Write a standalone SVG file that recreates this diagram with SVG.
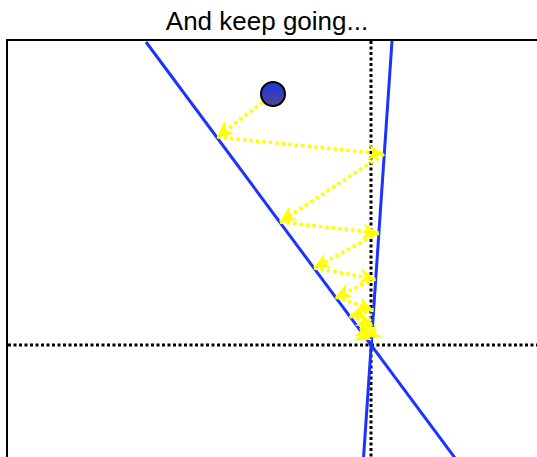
<svg xmlns="http://www.w3.org/2000/svg" width="537" height="457" viewBox="0 0 537 457">
<style>
.dot{fill:none;stroke:#000;stroke-width:3;stroke-dasharray:3 2.5}
.blue{fill:none;stroke:#1a33ff;stroke-width:3}
.ray{fill:none;stroke:#ffff00;stroke-width:3.5;stroke-dasharray:3.5 3}
.title{font-family:"Liberation Sans",Arial,sans-serif;font-size:26px;fill:#000}
</style>
<defs>
<marker id="ah" markerUnits="userSpaceOnUse" markerWidth="18" markerHeight="16" viewBox="0 0 18 16" refX="16" refY="8" orient="auto">
<path d="M0,0 L16,8 L0,16 L5,8 Z" fill="#ffff00"/>
</marker>
<linearGradient id="bg" x1="0" y1="0" x2="0" y2="1">
<stop offset="0" stop-color="#1f33e6"/>
<stop offset="1" stop-color="#4a4a8c"/>
</linearGradient>
</defs>
<rect width="537" height="457" fill="#fff"/>
<text class="title" x="267" y="30" text-anchor="middle">And keep going...</text>
<g id="frame">
<rect x="7" y="40" width="600" height="500" fill="none" stroke="#000" stroke-width="2"/>
</g>
<g id="axes">
<line class="dot" x1="371" y1="41" x2="371" y2="457"/>
<line class="dot" x1="8" y1="345" x2="537" y2="345"/>
</g>
<g id="mirrors">
<line class="blue" x1="146" y1="42" x2="455" y2="458"/>
<line class="blue" x1="392" y1="41" x2="363.5" y2="458"/>
</g>
<g id="rays" marker-end="url(#ah)">
<line class="ray" marker-end="url(#ah)" x1="263" y1="102" x2="217" y2="137"/>
<line class="ray" marker-end="url(#ah)" x1="217" y1="137" x2="384" y2="154"/>
<line class="ray" marker-end="url(#ah)" x1="384" y1="154" x2="280" y2="222"/>
<line class="ray" marker-end="url(#ah)" x1="280" y1="222" x2="378.7" y2="233"/>
<line class="ray" marker-end="url(#ah)" x1="378.7" y1="233" x2="314" y2="268"/>
<line class="ray" marker-end="url(#ah)" x1="314" y1="268" x2="375.5" y2="279"/>
<line class="ray" marker-end="url(#ah)" x1="375.5" y1="279" x2="335.5" y2="297"/>
<line class="ray" marker-end="url(#ah)" x1="335.5" y1="297" x2="373.4" y2="310"/>
<line class="ray" marker-end="url(#ah)" x1="373.4" y1="310" x2="349.5" y2="316"/>
<line class="ray" marker-end="url(#ah)" x1="349.5" y1="316" x2="372.4" y2="324"/>
<line class="ray" marker-end="url(#ah)" x1="372.4" y1="324" x2="360" y2="330"/>
<line class="ray" marker-end="url(#ah)" x1="360" y1="330" x2="371.8" y2="334"/>
<line class="ray" marker-end="url(#ah)" x1="371.8" y1="334" x2="365" y2="337"/>
<line class="ray" marker-end="url(#ah)" x1="365" y1="337" x2="371.3" y2="340"/>
</g>
<g id="ball">
<circle cx="273" cy="94" r="12" fill="url(#bg)" stroke="#000" stroke-width="2"/>
</g>
</svg>
